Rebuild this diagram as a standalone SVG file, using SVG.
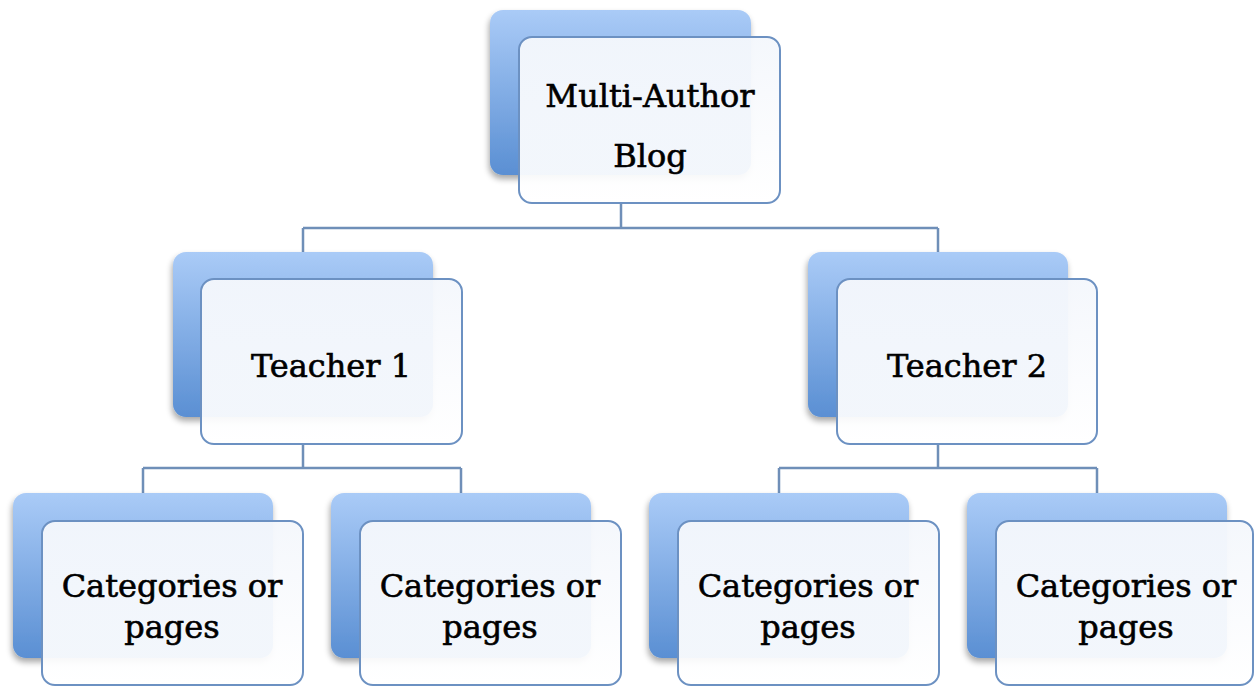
<svg xmlns="http://www.w3.org/2000/svg" width="1254" height="686" viewBox="0 0 1254 686">
<defs>
<linearGradient id="backg" x1="0" y1="0" x2="0" y2="1">
<stop offset="0" stop-color="#AACBF7"/>
<stop offset="1" stop-color="#5A8FD3"/>
</linearGradient>
<linearGradient id="frontg" x1="0" y1="0" x2="0" y2="1">
<stop offset="0" stop-color="#F4F7FC" stop-opacity="0.96"/>
<stop offset="1" stop-color="#FFFFFF" stop-opacity="0.93"/>
</linearGradient>
<filter id="sh" x="-10%" y="-10%" width="125%" height="125%">
<feGaussianBlur in="SourceAlpha" stdDeviation="3"/>
<feOffset dx="-1" dy="4" result="b"/>
<feComponentTransfer><feFuncA type="linear" slope="0.35"/></feComponentTransfer>
<feMerge><feMergeNode/><feMergeNode in="SourceGraphic"/></feMerge>
</filter>
</defs>
<style>
.back{fill:url(#backg);filter:url(#sh)}
.front{fill:url(#frontg);stroke:#6C91C2;stroke-width:2}
.conn{fill:none;stroke:#6F8FB8;stroke-width:2.5}
text{font-family:"DejaVu Serif","Liberation Serif",serif;font-size:32px;fill:#000;stroke:#000;stroke-width:0.6;text-anchor:middle}
</style>
<rect width="1254" height="686" fill="#FFFFFF"/>
<g id="connectors">
<path class="conn" d="M621,203 V228 M303,228 H938 M303,228 V252 M938,228 V252"/>
<path class="conn" d="M303,444 V468 M143,468 H461 M143,468 V493 M461,468 V493"/>
<path class="conn" d="M938,444 V468 M779,468 H1097 M779,468 V493 M1097,468 V493"/>
</g>
<g id="root">
<rect class="back" x="490" y="10" width="261" height="165" rx="13"/>
<rect class="front" x="519" y="37" width="261" height="166" rx="13"/>
<text x="650" y="107">Multi-Author</text>
<text x="650" y="167">Blog</text>
</g>
<g id="teacher1">
<rect class="back" x="173" y="252" width="260" height="165" rx="13"/>
<rect class="front" x="201" y="279" width="261" height="165" rx="13"/>
<text x="331" y="377">Teacher 1</text>
</g>
<g id="teacher2">
<rect class="back" x="808" y="252" width="260" height="165" rx="13"/>
<rect class="front" x="837" y="279" width="260" height="165" rx="13"/>
<text x="967" y="377">Teacher 2</text>
</g>
<g id="cat1">
<rect class="back" x="13" y="493" width="260" height="165" rx="13"/>
<rect class="front" x="42" y="521" width="261" height="164" rx="13"/>
<text x="172" y="597">Categories or</text>
<text x="172" y="638">pages</text>
</g>
<g id="cat2">
<rect class="back" x="331" y="493" width="260" height="165" rx="13"/>
<rect class="front" x="360" y="521" width="261" height="164" rx="13"/>
<text x="490" y="597">Categories or</text>
<text x="490" y="638">pages</text>
</g>
<g id="cat3">
<rect class="back" x="649" y="493" width="260" height="165" rx="13"/>
<rect class="front" x="678" y="521" width="261" height="164" rx="13"/>
<text x="808" y="597">Categories or</text>
<text x="808" y="638">pages</text>
</g>
<g id="cat4">
<rect class="back" x="967" y="493" width="260" height="165" rx="13"/>
<rect class="front" x="996" y="521" width="257" height="164" rx="13"/>
<text x="1126" y="597">Categories or</text>
<text x="1126" y="638">pages</text>
</g>
</svg>
